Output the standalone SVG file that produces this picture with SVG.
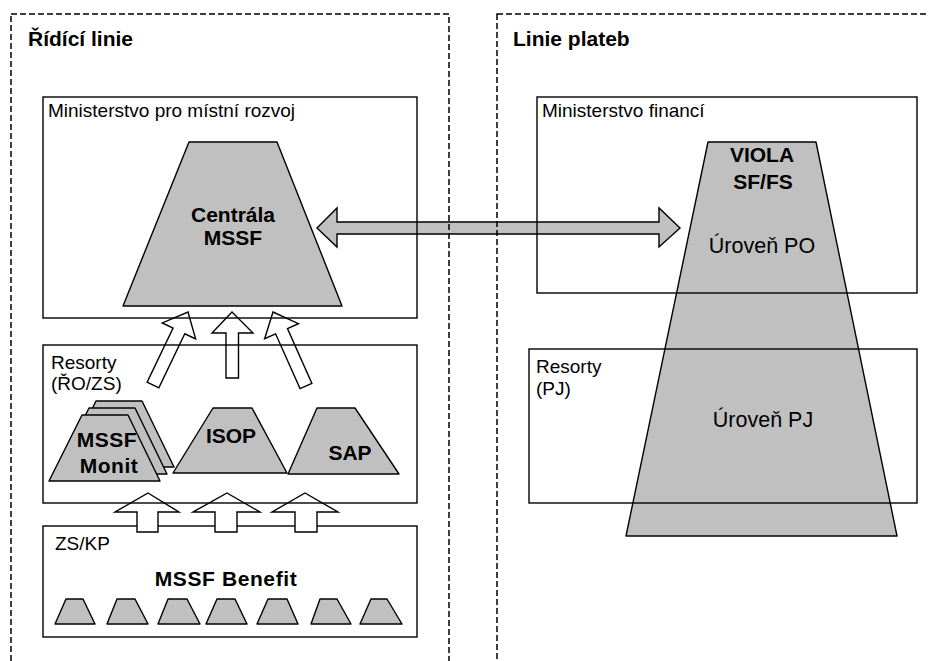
<svg xmlns="http://www.w3.org/2000/svg" width="929" height="661" viewBox="0 0 929 661">
<style>
.panel{fill:none;stroke:#000;stroke-width:1.5;stroke-dasharray:6 3}
.box{fill:none;stroke:#000;stroke-width:1.4}
.trap{fill:#c0c0c0;stroke:#000;stroke-width:1.4;stroke-linejoin:round}
.harrow{fill:#c0c0c0;stroke:#000;stroke-width:1.4}
.uarrow{fill:#fff;stroke:#000;stroke-width:1.4}
.title{font-family:"Liberation Sans",Arial,sans-serif;font-weight:bold;font-size:21px;fill:#000}
.lbl{font-family:"Liberation Sans",Arial,sans-serif;font-size:19px;fill:#000}
.big{font-family:"Liberation Sans",Arial,sans-serif;font-size:21.5px;fill:#000}
.name{font-family:"Liberation Sans",Arial,sans-serif;font-weight:bold;font-size:21px;fill:#000;text-anchor:middle}
</style>
<rect width="929" height="661" fill="#fff"/>

<g id="viola-shape">
<polygon class="trap" points="708,142 816,142 897,536 626,536"/>
</g>

<g id="zs-kp">
<rect class="box" x="43" y="526" width="374" height="111" fill="#fff"/>
<text class="lbl" x="55" y="550">ZS/KP</text>
<text class="name" x="226" y="586" font-size="22" letter-spacing="0.6">MSSF Benefit</text>
<polygon class="trap" points="66,599 83,599 95,624 55,624"/>
<polygon class="trap" points="117,599 135,599 148,624 107,624"/>
<polygon class="trap" points="168,599 187,599 200,624 158,624"/>
<polygon class="trap" points="217,599 235,599 247,624 206,624"/>
<polygon class="trap" points="268,599 287,599 298,624 257,624"/>
<polygon class="trap" points="320,599 337,599 351,624 311,624"/>
<polygon class="trap" points="371,599 387,599 402,624 360,624"/>
</g>

<g id="connectors">
<path class="harrow" d="M317,228 L337,208 L337,222 L659,222 L659,208 L680,228 L659,247 L659,234 L337,234 L337,247 Z"/>
<path class="uarrow" transform="translate(188,312) rotate(25.6)" d="M0,0 L18.5,21 L6.5,21 L6.5,81 L-6.5,81 L-6.5,21 L-18.5,21 Z"/>
<path class="uarrow" d="M232,312 L253,333 L238.5,333 L238.5,378 L226,378 L226,333 L212,333 Z"/>
<path class="uarrow" transform="translate(273,312) rotate(-24)" d="M0,0 L18.5,21 L6.5,21 L6.5,81 L-6.5,81 L-6.5,21 L-18.5,21 Z"/>
<path class="uarrow" d="M148,493 L179,512 L158,512 L158,532 L137,532 L137,512 L115,512 Z"/>
<path class="uarrow" d="M227,493 L260,512 L237,512 L237,532 L215,532 L215,512 L193,512 Z"/>
<path class="uarrow" d="M305,493 L338,512 L317,512 L317,532 L295,532 L295,512 L272,512 Z"/>
</g>

<g id="mmr">
<rect class="box" x="43" y="97" width="374" height="221"/>
<text class="lbl" x="48" y="117">Ministerstvo pro místní rozvoj</text>
<polygon class="trap" points="189,142 277,142 342,306 123,306"/>
<text class="name" x="233" y="222">Centrála</text>
<text class="name" x="233" y="245">MSSF</text>
</g>

<g id="resorty-ro">
<rect class="box" x="43" y="345" width="374" height="158"/>
<text class="lbl" x="51" y="369">Resorty</text>
<text class="lbl" x="51" y="390">(ŘO/ZS)</text>
<polygon class="trap" points="96,401 142,401 174,467 63,467"/>
<polygon class="trap" points="89,408 135,408 167,474 56,474"/>
<polygon class="trap" points="82,415 128,415 160,481 49,481"/>
<text class="name" x="107" y="447" font-size="22" letter-spacing="0.5">MSSF</text>
<text class="name" x="109" y="473" font-size="22" letter-spacing="0.5">Monit</text>
<polygon class="trap" points="213,408 252,408 287,473 173,473"/>
<text class="name" x="231" y="443">ISOP</text>
<polygon class="trap" points="317,408 355,408 399,474 288,474"/>
<text class="name" x="350" y="460">SAP</text>
</g>

<g id="mf">
<rect class="box" x="537" y="97" width="380" height="196"/>
<text class="lbl" x="542" y="117">Ministerstvo financí</text>
</g>

<g id="resorty-pj">
<rect class="box" x="529" y="349" width="388" height="154"/>
<text class="lbl" x="536" y="373">Resorty</text>
<text class="lbl" x="536" y="395">(PJ)</text>
</g>

<g id="viola-text">
<text class="name" x="762" y="162">VIOLA</text>
<text class="name" x="763" y="189">SF/FS</text>
<text class="big" x="762" y="253" text-anchor="middle">Úroveň PO</text>
<text class="big" x="763" y="427" text-anchor="middle">Úroveň PJ</text>
</g>

<g id="panels">
<rect class="panel" x="11" y="14" width="438" height="700"/>
<text class="title" x="28" y="46">Řídící linie</text>
<rect class="panel" x="497" y="14" width="500" height="700"/>
<text class="title" x="513" y="46">Linie plateb</text>
</g>
</svg>
